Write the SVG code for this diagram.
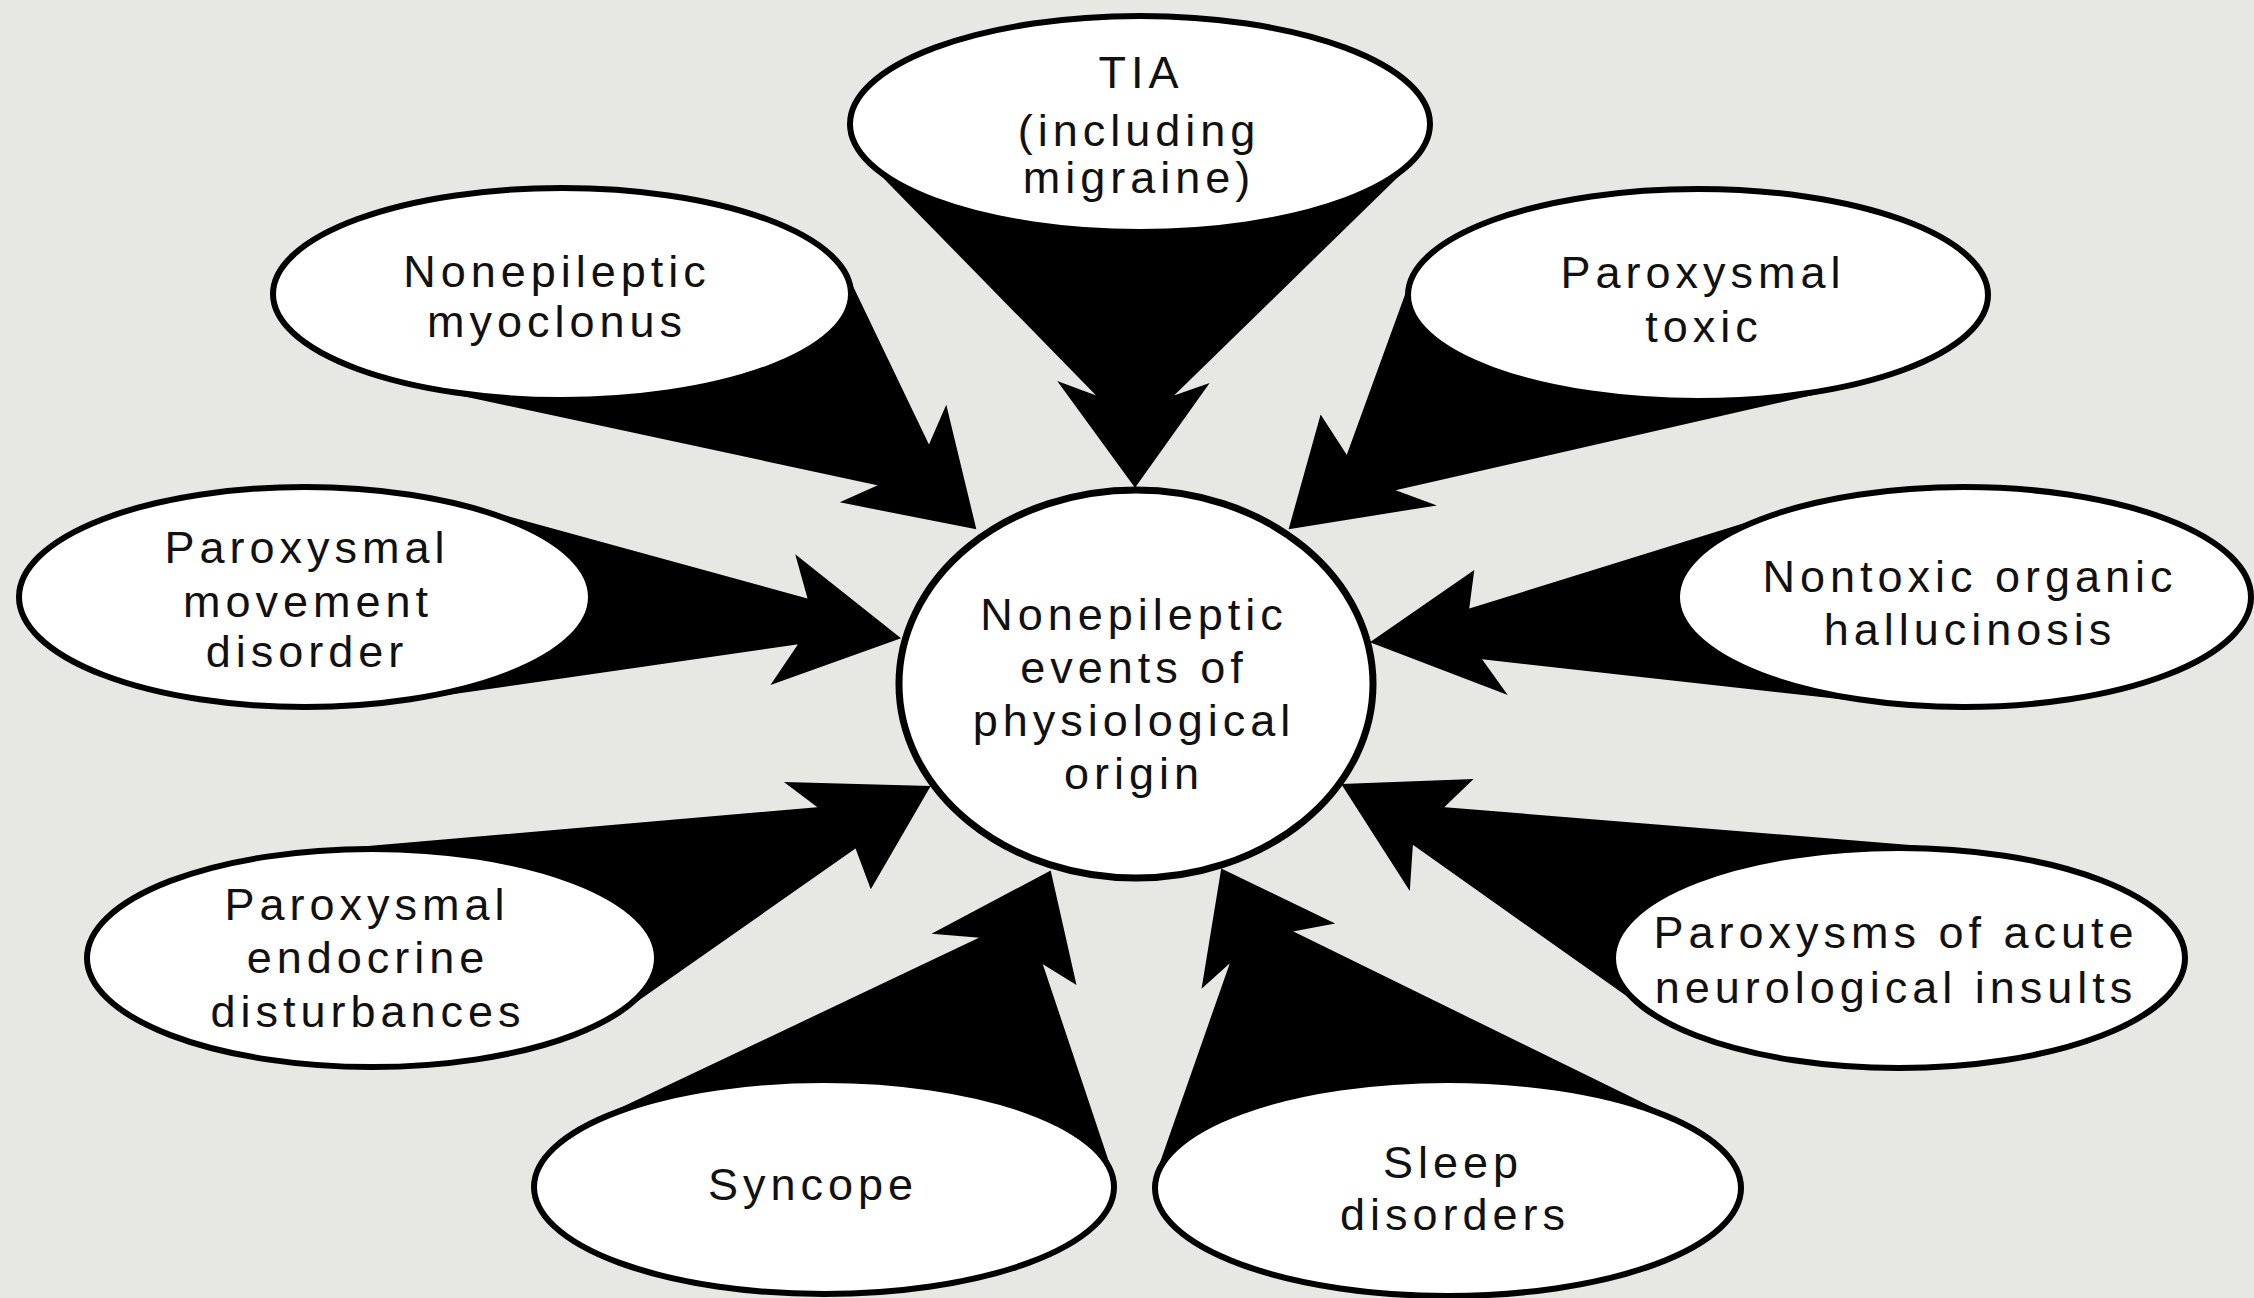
<svg xmlns="http://www.w3.org/2000/svg" width="2254" height="1298" viewBox="0 0 2254 1298">
<style>
.bg{fill:#e7e7e3}
.arrow{fill:#000;stroke:#000;stroke-width:2;stroke-linejoin:miter}
.node ellipse{fill:#fff;stroke:#000;stroke-width:6}
.node text{font-family:"Liberation Sans",Arial,sans-serif;font-size:45px;letter-spacing:5px;fill:#111;text-anchor:middle}
</style>
<rect class="bg" x="0" y="0" width="2254" height="1298"/>
<g id="connectors">
<polygon id="a-tia" class="arrow" points="868,161 1100,398 1060,383 1135,486 1207,385 1170,398 1411,163 1140,124"/>
<polygon id="a-myoclonus" class="arrow" points="847,276 929,447 946,408 975,528 843,502 881,485 416,385 562,294"/>
<polygon id="a-toxic" class="arrow" points="1411,281 1347,457 1321,417 1290,528 1433,505 1392,490 1852,385 1698,295"/>
<polygon id="a-movement" class="arrow" points="471,507 809,600 797,557 899,638 773,683 800,643 406,700 305,597"/>
<polygon id="a-hallucinosis" class="arrow" points="1783,512 1468,610 1473,572 1372,642 1505,693 1480,658 1884,703 1964,597"/>
<polygon id="a-endocrine" class="arrow" points="310,852 820,808 787,783 929,787 871,887 856,847 622,1011 372,958"/>
<polygon id="a-acute" class="arrow" points="1959,850 1442,808 1471,780 1343,785 1409,888 1412,843 1648,1010 1899,958"/>
<polygon id="a-syncope" class="arrow" points="595,1121 983,937 935,933 1050,872 1075,983 1041,962 1112,1174 824,1187"/>
<polygon id="a-sleep" class="arrow" points="1157,1174 1232,960 1203,986 1222,870 1332,923 1290,931 1682,1123 1448,1188"/>
</g>
<g id="node-center" class="node">
<ellipse cx="1136" cy="684" rx="237" ry="194" style="stroke-width:7"/>
<text x="1134" y="630">Nonepileptic</text>
<text x="1134" y="683">events of</text>
<text x="1134" y="736">physiological</text>
<text x="1134" y="789">origin</text>
</g>
<g id="node-tia" class="node">
<ellipse cx="1140" cy="124" rx="290" ry="108"/>
<text x="1141" y="88">TIA</text>
<text x="1139" y="146">(including</text>
<text x="1139" y="193">migraine)</text>
</g>
<g id="node-myoclonus" class="node">
<ellipse cx="562" cy="294" rx="289" ry="106"/>
<text x="557" y="287">Nonepileptic</text>
<text x="557" y="337">myoclonus</text>
</g>
<g id="node-toxic" class="node">
<ellipse cx="1698" cy="295" rx="290" ry="106"/>
<text x="1703" y="288">Paroxysmal</text>
<text x="1704" y="342">toxic</text>
</g>
<g id="node-movement" class="node">
<ellipse cx="305" cy="597" rx="286" ry="110"/>
<text x="307" y="563">Paroxysmal</text>
<text x="308" y="617">movement</text>
<text x="307" y="667">disorder</text>
</g>
<g id="node-hallucinosis" class="node">
<ellipse cx="1964" cy="597" rx="287" ry="110"/>
<text x="1970" y="592">Nontoxic organic</text>
<text x="1970" y="645">hallucinosis</text>
</g>
<g id="node-endocrine" class="node">
<ellipse cx="372" cy="958" rx="285" ry="109"/>
<text x="367" y="920">Paroxysmal</text>
<text x="368" y="973">endocrine</text>
<text x="368" y="1027">disturbances</text>
</g>
<g id="node-acute" class="node">
<ellipse cx="1899" cy="958" rx="286" ry="110"/>
<text x="1896" y="948">Paroxysms of acute</text>
<text x="1896" y="1003">neurological insults</text>
</g>
<g id="node-syncope" class="node">
<ellipse cx="824" cy="1187" rx="290" ry="107"/>
<text x="813" y="1200">Syncope</text>
</g>
<g id="node-sleep" class="node">
<ellipse cx="1448" cy="1188" rx="293" ry="108"/>
<text x="1453" y="1178">Sleep</text>
<text x="1455" y="1230">disorders</text>
</g>
</svg>
